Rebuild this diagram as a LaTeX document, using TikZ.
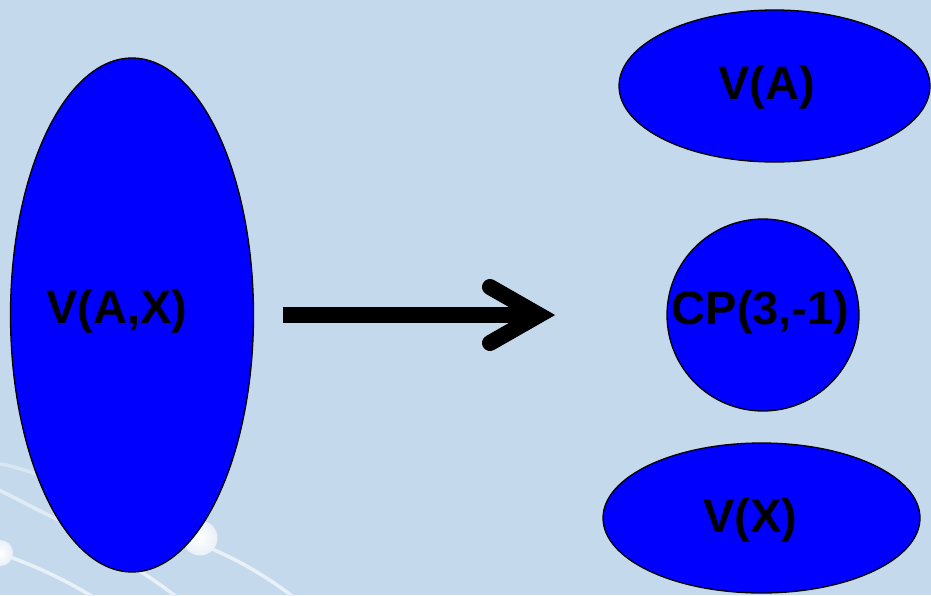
\documentclass[tikz,border=0pt]{standalone}
\usepackage{fontspec}
\setmainfont{Liberation Sans}
\usetikzlibrary{shapes.geometric}
\definecolor{bg}{HTML}{C4DAEC}
\definecolor{deco}{HTML}{E8F0F8}
\tikzset{
  blob/.style={ellipse, draw=black, line width=1.3pt, fill={rgb,255:red,0;green,0;blue,255}, inner sep=0pt},
  blobtext/.style={anchor=base, inner sep=0pt, font=\fontsize{47}{50}\selectfont\bfseries, text=black},
  decoline/.style={draw=deco, line width=3.5pt, line cap=round},
  ball/.style={inner color=white, outer color=bg!40!white, draw=none},
  bigarrow/.style={line width=16pt, draw=black}
}
\begin{document}
\begin{tikzpicture}[x=1pt,y=-1pt]
\fill[bg] (0,0) rectangle (931,595);
\useasboundingbox (0,0) rectangle (931,595);
% decorative background curves
\draw[decoline, draw opacity=0.6] (-5,463) .. controls (15,466) and (30,472) .. (60,482);
\draw[decoline, draw opacity=0.8] (-5,488) .. controls (20,500) and (40,512) .. (70,525);
\draw[decoline] (10,557) .. controls (40,568) and (65,580) .. (95,598);
\draw[decoline] (130,565) .. controls (150,577) and (165,588) .. (178,598);
\draw[decoline] (210,548) .. controls (230,557) and (255,568) .. (295,598);
\shade[ball] (0,553) circle (13);
\shade[ball] (200,538) circle (17.5);
% nodes
\node[blob, minimum width=243pt, minimum height=514pt] (vax) at (132,315) {};
\node[blob, minimum width=311pt, minimum height=152pt] (va) at (774.5,86) {};
\node[blob, circle, minimum size=192pt] (cp) at (763,315) {};
\node[blob, minimum width=317pt, minimum height=150pt] (vx) at (761.5,518) {};
\node[blobtext] (vaxt) at (117,323) {V(A,X)};
\node[blobtext] (vat) at (766.5,99) {V(A)};
\node[blobtext] (cpt) at (760.5,324) {CP(3,-1)};
\node[blobtext] (vxt) at (750,532) {V(X)};
% arrow
\coordinate (s) at (283,315);
\coordinate (t) at (540,315);
\coordinate (b1) at (490,287);
\coordinate (b2) at (490,343);
\draw[bigarrow, line cap=butt] (s) -- (t);
\draw[bigarrow, line cap=round, line join=miter] (b1) -- (539,315) -- (b2);
\end{tikzpicture}
\end{document}
